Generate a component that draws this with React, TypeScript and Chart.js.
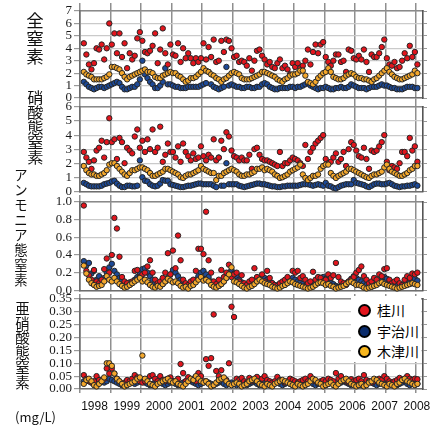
import React, { useEffect, useRef } from 'react';
import { Chart, registerables } from 'chart.js';
Chart.register(...registerables);

// ---- data: monthly values, month index i plotted at x = i + 1.5 ----
const seriesNames = ['桂川', '宇治川', '木津川'];
const yearLabels = [1998, 1999, 2000, 2001, 2002, 2003, 2004, 2005, 2006, 2007, 2008];

// 全窒素
const katsuraTN = [
  4.4,3.5,2.7,2.3,2.8,4.0,3.9,4.3,3.1,4.0,6.0,4.3,
  5.2,3.6,5.2,3.3,4.4,2.4,3.6,3.1,3.4,4.8,5.3,4.6,
  3.7,3.6,3.8,4.2,5.2,2.8,3.9,5.6,3.6,2.7,4.3,3.5,
  3.4,4.4,2.9,4.0,3.2,3.6,3.2,2.8,3.2,2.9,3.2,4.4,
  3.1,4.1,3.3,4.7,2.9,3.0,4.6,3.7,4.7,4.6,4.0,3.3,
  3.4,2.9,3.0,2.9,2.6,3.2,2.2,3.0,3.8,3.9,3.4,3.1,
  2.7,2.9,2.5,2.4,2.8,3.1,2.4,2.6,2.3,1.9,2.8,2.5,
  2.8,2.4,2.6,3.0,3.9,2.7,3.7,4.3,3.6,4.3,4.5,3.3,
  2.9,2.6,3.0,3.5,3.5,2.9,3.0,2.1,3.9,3.8,3.2,3.1,
  3.4,3.1,3.9,2.9,2.1,3.5,3.3,3.3,3.6,4.1,4.7,3.2,
  2.7,2.6,2.9,2.4,2.5,3.0,3.6,3.2,4.2,3.3,3.7,2.7,
];
const ujiTN = [
  1.3,1.1,0.9,0.8,0.7,0.8,0.9,0.9,0.8,0.9,1.0,1.1,
  1.2,1.3,1.2,0.9,0.7,0.7,0.8,0.9,0.9,1.1,1.5,3.0,
  1.9,1.6,1.3,1.1,0.8,0.8,1.0,1.3,2.4,1.1,1.1,1.0,
  0.9,0.9,0.8,0.8,0.8,0.9,0.9,0.9,0.9,0.9,1.0,1.1,
  1.2,2.1,1.1,0.9,0.8,0.7,0.8,0.9,2.5,1.0,1.1,1.0,
  0.9,0.9,0.8,0.8,0.9,0.9,0.8,0.8,0.9,0.9,1.1,1.2,
  1.1,0.9,0.8,0.7,0.7,0.8,0.8,0.8,0.8,0.9,0.9,0.8,
  0.9,0.9,1.0,1.1,1.2,1.0,0.9,0.8,0.7,0.8,0.8,0.9,
  0.8,0.7,0.7,0.8,0.8,0.9,0.8,0.8,0.9,1.1,1.0,0.9,
  0.8,0.8,0.8,0.7,0.8,0.9,0.9,0.9,1.0,1.1,1.0,1.0,
  0.9,0.8,0.8,0.7,0.7,0.7,0.8,0.9,0.9,0.9,0.8,0.8,
];
const kizuTN = [
  2.1,1.9,1.8,1.7,1.5,1.5,1.5,1.5,1.6,1.7,1.9,2.5,
  2.5,2.4,2.3,2.0,1.7,1.5,1.7,1.8,1.9,2.0,2.1,2.2,
  2.3,2.1,2.1,2.0,1.7,1.6,1.6,1.8,1.9,2.0,2.1,2.0,
  2.0,1.8,1.7,1.5,1.3,1.4,1.6,1.6,1.7,1.9,2.1,2.4,
  2.2,2.1,1.9,1.8,1.6,1.5,1.3,1.5,1.6,1.8,2.0,2.1,
  2.0,1.9,1.6,1.5,1.5,1.5,1.6,1.7,1.8,1.9,2.1,2.1,
  2.0,1.9,1.8,1.7,1.5,1.4,1.3,1.5,1.6,1.8,1.9,1.9,
  2.0,2.2,2.2,1.8,1.3,1.2,1.1,1.3,1.6,1.8,2.0,2.1,
  2.4,2.1,1.7,1.6,1.5,1.5,1.6,1.8,1.9,2.0,1.9,1.7,
  1.6,1.6,1.5,1.5,1.4,1.3,1.5,1.6,1.8,2.0,2.2,2.4,
  2.1,1.9,1.7,1.6,1.5,1.5,1.6,1.7,1.8,1.9,2.2,2.0,
];

// 硝酸態窒素
const katsuraNO3 = [
  2.8,2.4,2.1,1.6,2.2,2.9,3.1,3.6,2.4,3.5,5.2,3.5,
  3.7,2.3,3.8,3.5,2.0,3.1,2.9,2.7,3.9,4.4,3.1,3.6,
  2.8,3.7,3.0,4.4,2.8,3.1,4.6,2.1,2.6,3.4,2.8,2.8,
  2.4,3.2,2.1,3.4,2.8,2.5,2.2,2.7,2.3,2.4,3.2,2.5,
  2.2,2.6,2.4,3.7,2.2,2.4,3.6,3.0,4.2,3.9,2.9,2.5,
  2.4,2.2,2.4,2.2,2.2,2.6,1.6,3.0,3.1,2.6,2.3,2.2,
  2.2,2.1,2.0,1.9,1.8,2.8,1.8,2.0,2.0,2.2,2.4,2.3,
  2.2,2.0,1.8,3.3,2.3,2.8,3.1,3.4,3.6,3.8,4.0,2.3,
  2.0,2.1,2.4,2.7,2.1,2.3,2.8,1.8,3.0,3.5,3.3,2.9,
  2.5,2.4,3.1,2.3,1.6,2.9,2.8,2.9,3.2,3.5,4.0,2.1,
  1.5,1.8,1.7,1.6,2.0,2.8,2.8,2.5,3.8,2.9,3.2,2.1,
];
const ujiNO3 = [
  0.6,0.5,0.4,0.35,0.35,0.35,0.35,0.4,0.5,0.55,0.6,0.7,
  0.75,0.55,0.4,0.3,0.3,0.4,0.4,0.35,0.35,0.4,2.2,1.0,
  0.75,0.7,0.5,0.4,0.35,0.4,0.55,0.8,0.75,0.75,0.5,0.45,
  0.4,0.35,0.3,0.3,0.35,0.4,0.4,0.45,0.5,0.55,0.55,0.5,
  0.5,0.5,0.5,0.4,0.3,2.4,0.4,0.4,2.0,0.5,0.5,0.5,
  0.5,0.4,0.35,0.3,0.35,0.4,0.45,0.5,0.55,0.55,0.5,0.5,
  0.45,0.4,0.35,0.35,0.3,0.3,0.35,0.35,0.4,0.4,0.4,0.4,
  0.4,0.45,0.5,0.5,0.5,0.45,0.4,0.45,0.5,0.45,0.4,0.6,
  0.4,0.35,0.25,0.2,0.3,0.4,0.45,0.5,0.5,0.5,0.8,0.6,
  0.55,0.5,0.45,0.35,0.3,0.4,0.5,0.55,0.55,0.5,0.5,0.55,
  0.6,0.5,0.4,0.35,0.3,0.35,0.35,0.4,0.4,0.45,0.5,0.4,
];
const kizuNO3 = [
  1.8,1.5,1.3,1.2,1.2,1.1,1.1,1.2,1.3,1.5,1.9,2.0,
  2.0,1.8,1.6,1.4,1.2,1.1,1.3,1.5,1.5,1.6,1.7,1.7,
  1.6,1.5,1.3,1.1,1.1,1.2,1.3,1.4,1.6,1.6,1.5,1.4,
  1.3,1.2,1.0,0.95,1.1,1.2,1.2,1.3,1.4,1.5,1.8,1.6,
  1.5,1.4,1.3,1.3,0.8,1.1,1.1,1.3,1.4,1.5,1.6,1.5,
  1.4,1.2,1.1,1.1,1.2,1.2,1.3,1.4,1.6,1.6,1.7,1.5,
  1.6,1.5,1.4,1.2,1.1,0.95,1.0,1.1,1.2,1.4,1.5,1.6,
  1.7,1.9,1.2,0.95,0.8,0.95,1.1,1.1,1.2,1.6,1.8,1.9,
  1.9,1.3,1.1,0.95,1.1,1.2,1.3,1.4,1.6,1.6,1.5,1.4,
  1.3,1.2,1.1,1.0,0.95,1.1,1.2,1.2,1.3,1.4,1.7,1.9,
  1.6,1.4,1.3,1.2,1.1,1.1,1.2,1.3,1.5,1.6,1.8,1.8,
];

// アンモニア態窒素
const katsuraNH4 = [
  0.96,0.22,0.17,0.12,0.23,0.1,0.08,0.12,0.24,0.36,0.2,0.4,
  0.82,0.7,0.38,0.15,0.1,0.08,0.06,0.1,0.22,0.23,0.15,0.18,
  0.2,0.27,0.34,0.2,0.12,0.08,0.1,0.14,0.2,0.42,0.18,0.45,
  0.25,0.62,0.34,0.12,0.08,0.06,0.1,0.12,0.22,0.47,0.47,0.41,
  0.89,0.34,0.2,0.1,0.07,0.12,0.23,0.15,0.2,0.29,0.15,0.18,
  0.2,0.1,0.17,0.08,0.06,0.1,0.12,0.25,0.15,0.12,0.18,0.1,
  0.22,0.14,0.08,0.06,0.05,0.08,0.1,0.12,0.15,0.1,0.22,0.2,
  0.22,0.14,0.16,0.12,0.08,0.1,0.21,0.12,0.15,0.14,0.1,0.12,
  0.18,0.14,0.17,0.31,0.15,0.1,0.08,0.06,0.1,0.12,0.15,0.2,
  0.23,0.27,0.16,0.12,0.08,0.1,0.14,0.12,0.18,0.16,0.24,0.25,
  0.12,0.08,0.1,0.12,0.08,0.06,0.12,0.16,0.14,0.19,0.18,0.2,
];
const ujiNH4 = [
  0.33,0.28,0.31,0.19,0.22,0.12,0.16,0.1,0.14,0.2,0.26,0.3,
  0.22,0.18,0.14,0.12,0.08,0.06,0.09,0.08,0.12,0.15,0.2,0.24,
  0.25,0.2,0.16,0.12,0.08,0.06,0.05,0.07,0.1,0.14,0.18,0.23,
  0.2,0.16,0.12,0.1,0.07,0.05,0.06,0.08,0.12,0.16,0.2,0.22,
  0.18,0.15,0.1,0.08,0.06,0.05,0.07,0.1,0.14,0.2,0.23,0.19,
  0.16,0.12,0.09,0.07,0.05,0.04,0.06,0.08,0.1,0.13,0.16,0.14,
  0.12,0.1,0.08,0.06,0.05,0.04,0.06,0.08,0.1,0.12,0.14,0.12,
  0.1,0.09,0.07,0.05,0.04,0.05,0.07,0.09,0.12,0.14,0.15,0.13,
  0.11,0.09,0.07,0.05,0.04,0.05,0.06,0.08,0.1,0.13,0.16,0.14,
  0.12,0.1,0.08,0.06,0.05,0.04,0.06,0.08,0.11,0.14,0.15,0.13,
  0.11,0.09,0.07,0.05,0.04,0.05,0.06,0.08,0.1,0.12,0.13,0.11,
];
const kizuNH4 = [
  0.28,0.19,0.12,0.08,0.06,0.04,0.05,0.06,0.1,0.16,0.12,0.1,
  0.14,0.1,0.07,0.05,0.03,0.04,0.06,0.08,0.1,0.12,0.14,0.1,
  0.12,0.09,0.06,0.04,0.03,0.05,0.04,0.07,0.1,0.13,0.11,0.09,
  0.1,0.08,0.05,0.03,0.04,0.02,0.05,0.06,0.09,0.12,0.15,0.11,
  0.12,0.1,0.06,0.04,0.03,0.05,0.07,0.1,0.14,0.18,0.26,0.1,
  0.09,0.07,0.05,0.03,0.02,0.04,0.05,0.07,0.1,0.12,0.1,0.08,
  0.07,0.06,0.04,0.03,0.02,0.03,0.05,0.06,0.08,0.1,0.09,0.07,
  0.06,0.05,0.04,0.03,0.02,0.03,0.04,0.06,0.08,0.09,0.08,0.06,
  0.07,0.05,0.04,0.02,0.03,0.04,0.05,0.07,0.09,0.1,0.08,0.06,
  0.06,0.05,0.03,0.02,0.03,0.04,0.05,0.06,0.08,0.09,0.07,0.06,
  0.05,0.04,0.03,0.02,0.03,0.04,0.05,0.06,0.07,0.08,0.07,0.06,
];

// 亜硝酸態窒素
const katsuraNO2 = [
  0.054,0.04,0.03,0.025,0.03,0.05,0.035,0.03,0.04,0.08,0.06,0.08,
  0.06,0.04,0.03,0.02,0.025,0.035,0.03,0.04,0.054,0.045,0.03,0.025,
  0.03,0.04,0.05,0.054,0.04,0.03,0.05,0.035,0.03,0.04,0.045,0.03,
  0.03,0.04,0.097,0.062,0.03,0.046,0.035,0.04,0.03,0.062,0.05,0.03,
  0.116,0.09,0.12,0.29,0.07,0.05,0.073,0.038,0.035,0.1,0.32,0.28,
  0.04,0.035,0.043,0.03,0.025,0.043,0.03,0.035,0.047,0.03,0.04,0.05,
  0.035,0.03,0.025,0.03,0.047,0.035,0.03,0.025,0.03,0.04,0.035,0.03,
  0.025,0.03,0.035,0.04,0.03,0.05,0.035,0.03,0.025,0.03,0.035,0.03,
  0.04,0.035,0.03,0.062,0.04,0.05,0.035,0.03,0.025,0.038,0.03,0.035,
  0.04,0.03,0.054,0.035,0.03,0.025,0.03,0.035,0.04,0.035,0.05,0.04,
  0.03,0.025,0.03,0.035,0.043,0.035,0.04,0.05,0.04,0.035,0.04,0.038,
];
const ujiNO2 = [
  0.03,0.035,0.03,0.025,0.02,0.03,0.035,0.03,0.025,0.03,0.04,0.035,
  0.03,0.025,0.02,0.015,0.02,0.025,0.03,0.025,0.02,0.025,0.03,0.03,
  0.025,0.02,0.015,0.02,0.025,0.03,0.025,0.02,0.015,0.02,0.025,0.03,
  0.02,0.015,0.02,0.025,0.03,0.035,0.03,0.025,0.02,0.015,0.02,0.025,
  0.03,0.025,0.02,0.015,0.02,0.025,0.03,0.02,0.015,0.02,0.025,0.02,
  0.015,0.02,0.025,0.02,0.015,0.02,0.025,0.03,0.02,0.015,0.02,0.025,
  0.02,0.015,0.02,0.025,0.03,0.02,0.015,0.02,0.025,0.02,0.015,0.02,
  0.025,0.02,0.015,0.02,0.025,0.03,0.02,0.015,0.02,0.025,0.02,0.015,
  0.02,0.025,0.02,0.015,0.02,0.025,0.03,0.025,0.02,0.015,0.02,0.025,
  0.02,0.015,0.02,0.025,0.03,0.025,0.02,0.015,0.02,0.025,0.02,0.015,
  0.02,0.025,0.02,0.015,0.02,0.025,0.03,0.02,0.015,0.02,0.025,0.02,
];
const kizuNO2 = [
  0.02,0.035,0.04,0.03,0.015,0.01,0.02,0.03,0.045,0.1,0.1,0.09,
  0.06,0.04,0.03,0.02,0.01,0.015,0.02,0.025,0.03,0.04,0.045,0.13,
  0.04,0.03,0.02,0.015,0.01,0.02,0.025,0.03,0.035,0.04,0.03,0.025,
  0.03,0.02,0.015,0.01,0.02,0.03,0.04,0.035,0.05,0.04,0.03,0.025,
  0.03,0.02,0.01,0.015,0.025,0.035,0.04,0.045,0.03,0.02,0.015,0.02,
  0.025,0.02,0.01,0.015,0.02,0.03,0.035,0.04,0.03,0.02,0.015,0.01,
  0.02,0.015,0.01,0.02,0.025,0.03,0.035,0.03,0.025,0.02,0.015,0.01,
  0.02,0.015,0.01,0.015,0.02,0.03,0.04,0.035,0.025,0.02,0.01,0.015,
  0.02,0.025,0.015,0.01,0.02,0.03,0.035,0.04,0.03,0.02,0.015,0.01,
  0.015,0.02,0.01,0.015,0.025,0.03,0.04,0.035,0.025,0.02,0.015,0.01,
  0.02,0.015,0.01,0.02,0.025,0.035,0.04,0.03,0.025,0.02,0.015,0.02,
];

const RED = '#e3151d';
const BLUE = '#1d4a98';
const ORANGE = '#f3a72c';
const LEG_BLUE = '#0b2c6c';
const LEG_ORANGE = '#f7b61e';
const X_MAX = 134.7;
const JP = "'Noto Sans CJK JP', 'Noto Sans', sans-serif";

type Panel = {
  top: number; height: number; padTop: number; tickTop: number; tickBottom: number;
  max: number; step: number; digits: number; red: number[]; blue: number[]; orange: number[];
  years: boolean;
};

const panels: Panel[] = [
  { top: 0, height: 102, padTop: 3, tickTop: 8, tickBottom: 4, max: 7, step: 1, digits: 0,
    red: katsuraTN, blue: ujiTN, orange: kizuTN, years: false },
  { top: 102, height: 93, padTop: 0, tickTop: 5, tickBottom: 1, max: 6, step: 1, digits: 0,
    red: katsuraNO3, blue: ujiNO3, orange: kizuNO3, years: false },
  { top: 195, height: 99, padTop: 0, tickTop: 7, tickBottom: 1, max: 1.0, step: 0.2, digits: 1,
    red: katsuraNH4, blue: ujiNH4, orange: kizuNH4, years: false },
  { top: 294, height: 131, padTop: 0, tickTop: 5, tickBottom: 4, max: 0.35, step: 0.05, digits: 2,
    red: katsuraNO2, blue: ujiNO2, orange: kizuNO2, years: true },
];

function makeConfig(p: Panel): any {
  const toPts = (arr: number[]) => arr.map((v, i) => ({ x: i + 1.5, y: v }));
  const ds = (label: string, arr: number[], color: string, order: number) => ({
    label, data: toPts(arr), backgroundColor: color, borderColor: '#262626', borderWidth: 1,
    pointRadius: 2.7, pointHoverRadius: 2.7, order, clip: false,
  });
  const vGrid = '#8f8f8f';
  const frame = { display: true, color: '#6e6e6e', width: 1.6 };
  const scales: any = {
    x: {
      type: 'linear', position: 'bottom', min: 0, max: X_MAX, weight: 0,
      ticks: { display: false, stepSize: 12, includeBounds: false },
      grid: { color: vGrid, lineWidth: 1.5, drawTicks: true, tickLength: p.tickBottom },
      border: frame,
      afterFit: (s: any) => { s.height = p.tickBottom; s.paddingLeft = 0; s.paddingRight = 0; },
    },
    xt: {
      type: 'linear', position: 'top', min: 0, max: X_MAX,
      ticks: { display: false, stepSize: 12, includeBounds: false },
      grid: { color: vGrid, lineWidth: 1.5, drawOnChartArea: false, drawTicks: true, tickLength: p.tickTop },
      border: { display: true, color: '#8a8a8a', width: 1.4 },
      afterFit: (s: any) => { s.height = p.tickTop; s.paddingLeft = 0; s.paddingRight = 0; },
    },
    y: {
      type: 'linear', position: 'left', min: 0, max: p.max,
      ticks: {
        stepSize: p.step, includeBounds: false, autoSkip: false, padding: 2, color: '#1a1a1a',
        font: { family: "'Liberation Serif', serif", size: 13 },
        callback: (v: any) => Number(v).toFixed(p.digits),
      },
      grid: { color: '#cacaca', lineWidth: 1.2, tickLength: 6, tickColor: '#9a9a9a' },
      border: frame,
      afterFit: (s: any) => { s.width = 80; s.paddingTop = 0; s.paddingBottom = 0; },
    },
    yr: {
      type: 'linear', position: 'right', min: 0, max: p.max,
      ticks: { display: false, stepSize: p.step, includeBounds: false, autoSkip: false },
      grid: { drawOnChartArea: false, tickLength: 4, color: '#9a9a9a' },
      border: { display: true, color: '#555', width: 1.6 },
      afterFit: (s: any) => { s.width = 4; s.paddingTop = 0; s.paddingBottom = 0; },
    },
  };
  if (p.years) {
    scales.xl = {
      type: 'linear', position: 'bottom', min: 1997.55, max: 2008.19, weight: 1,
      afterBuildTicks: (s: any) => { s.ticks = yearLabels.map((v) => ({ value: v })); },
      ticks: {
        autoSkip: false, maxRotation: 0, padding: 6, color: '#111',
        font: { family: "'Liberation Sans', Arial, sans-serif", size: 12 },
        callback: (v: any) => String(v),
      },
      grid: { display: false, drawTicks: false },
      border: { display: false },
      afterFit: (s: any) => { s.height = 32; s.paddingLeft = 0; s.paddingRight = 0; },
    };
  }
  return {
    type: 'scatter',
    data: {
      datasets: [
        ds(seriesNames[0], p.red, RED, 1),
        ds(seriesNames[1], p.blue, BLUE, 2),
        ds(seriesNames[2], p.orange, ORANGE, 0),
      ],
    },
    options: {
      responsive: false, animation: false, devicePixelRatio: 1,
      layout: { padding: { top: p.padTop, right: 14, left: 0, bottom: 0 } },
      plugins: { legend: { display: false }, tooltip: { enabled: false } },
      events: [],
      scales,
    },
  };
}

function VLabel({ text, cx, top, size, step, sx }: { text: string; cx: number; top: number; size: number; step: number; sx: number }) {
  return (
    <div style={{
      position: 'absolute', left: cx - size / 2, top, width: size, fontFamily: JP, fontSize: size,
      lineHeight: step + 'px', textAlign: 'center', color: '#111', transform: `scaleX(${sx})`,
    }}>
      {Array.from(text).map((c, i) => <div key={i}>{c}</div>)}
    </div>
  );
}

export default function App() {
  const refs = [useRef<HTMLCanvasElement>(null), useRef<HTMLCanvasElement>(null), useRef<HTMLCanvasElement>(null), useRef<HTMLCanvasElement>(null)];
  useEffect(() => {
    const charts = panels.map((p, i) => new Chart(refs[i].current as HTMLCanvasElement, makeConfig(p)));
    return () => charts.forEach((c) => c.destroy());
  }, []);

  const legendItems = [
    { name: seriesNames[0], color: RED, cy: 310 },
    { name: seriesNames[1], color: LEG_BLUE, cy: 331 },
    { name: seriesNames[2], color: LEG_ORANGE, cy: 351 },
  ];

  return (
    <div style={{ position: 'absolute', left: 0, top: 0, width: 441, height: 425, background: '#fff', overflow: 'hidden' }}>
      {panels.map((p, i) => (
        <canvas key={i} ref={refs[i]} width={441} height={p.height}
          style={{ position: 'absolute', left: 0, top: p.top, width: 441, height: p.height }} />
      ))}
      <VLabel text="全窒素" cx={35} top={10.5} size={17.5} step={18} sx={1} />
      <VLabel text="硝酸態窒素" cx={35} top={89} size={14.5} step={15} sx={1.12} />
      <VLabel text="アンモニア態窒素" cx={21} top={166.5} size={14} step={15} sx={0.95} />
      <VLabel text="亜硝酸態窒素" cx={22.5} top={301} size={14.5} step={14.7} sx={1} />
      <div style={{ position: 'absolute', left: 15, top: 408.5, fontFamily: JP, fontSize: 13, lineHeight: '15px', color: '#111' }}>(mg/L)</div>
      <div style={{ position: 'absolute', left: 351, top: 296, width: 70, height: 66, background: '#fff' }} />
      {legendItems.map((it, i) => (
        <React.Fragment key={i}>
          <div style={{
            position: 'absolute', left: 357.5, top: it.cy - 6.5, width: 13, height: 13, boxSizing: 'border-box',
            borderRadius: '50%', background: it.color, border: '2px solid #000',
          }} />
          <div style={{ position: 'absolute', left: 377, top: it.cy - 8, fontFamily: JP, fontSize: 14, lineHeight: '16px', color: '#000' }}>{it.name}</div>
        </React.Fragment>
      ))}
    </div>
  );
}
